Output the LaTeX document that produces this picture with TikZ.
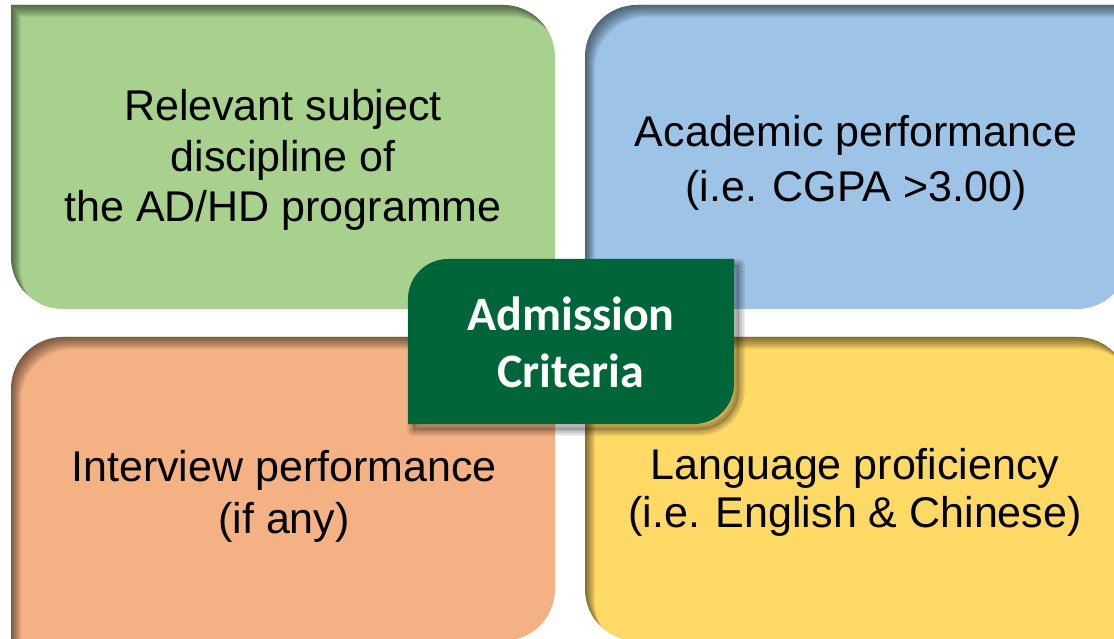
\documentclass[tikz,border=0pt]{standalone}
\usepackage{fontspec}
\setmainfont{Liberation Sans}
\newfontfamily\ctrfont{Carlito}
\definecolor{boxgreen}{HTML}{A9D18E}
\definecolor{boxblue}{HTML}{9DC3E6}
\definecolor{boxorange}{HTML}{F4B183}
\definecolor{boxyellow}{HTML}{FFD966}
\definecolor{ctrgreen}{HTML}{00663A}
\newcommand\shpGreen{(11,633) -- (503,633) arc(90:0:52) -- (555,381) arc(0:-90:52) -- (63,329) arc(270:180:52) -- cycle}
\newcommand\shpBlue{(1129,633) -- (1129,381) arc(0:-90:52) -- (637,329) arc(270:180:52) -- (585,581) arc(180:90:52) -- cycle}
\newcommand\shpOrange{(11,-3) -- (11,249) arc(180:90:52) -- (503,301) arc(90:0:52) -- (555,49) arc(0:-90:52) -- cycle}
\newcommand\shpYellow{(1129,-3) -- (1129,249) arc(0:90:52) -- (637,301) arc(90:180:52) -- (585,49) arc(180:270:52) -- cycle}
\newcommand\shpCenter{(408,214) -- (408,339) arc(180:90:40) -- (734,379) -- (734,254) arc(0:-90:40) -- cycle}
\newcommand\innershade[1]{%
  \begin{scope}
    \clip #1;
    \foreach \d in {1,...,11} {
      \fill[black, opacity=0.055, even odd rule, shift={(\d*0.9,-\d*1.1)}]
        (-400,-400) rectangle (1600,1100) #1;
    }
  \end{scope}}
\begin{document}
\begin{tikzpicture}[x=1pt,y=1pt,
  every node/.style={inner sep=0pt, outer sep=0pt},
  boxtext/.style={align=center, anchor=base, text=black}]
\path[use as bounding box, clip] (0,0) rectangle (1114,638);
\fill[white] (0,0) rectangle (1114,638);

% quadrant boxes
\fill[boxgreen] \shpGreen;
\innershade{\shpGreen}
\fill[boxblue] \shpBlue;
\innershade{\shpBlue}
\fill[boxorange] \shpOrange;
\innershade{\shpOrange}
\fill[boxyellow] \shpYellow;
\innershade{\shpYellow}

% texts (anchor base = baseline of the last line)
\node[boxtext, font=\fontsize{43}{50.5}\selectfont] (tg) at (283,416.3)
  {Relevant subject\\discipline of\\the AD/HD programme};
\node[boxtext, font=\fontsize{43}{55}\selectfont] (tb) at (856,436.3)
  {Academic performance\\(i.e. CGPA >3.00)};
\node[boxtext, font=\fontsize{43}{52}\selectfont] (to) at (284,105)
  {Interview performance\\(if any)};
\node[boxtext, font=\fontsize{43}{47.5}\selectfont] (ty) at (855,110.7)
  {Language proficiency\\(i.e. English \& Chinese)};

% center box shadow
\begin{scope}[shift={(5,-6)}]
  \foreach \w in {12,9,6,3} {
    \draw[black, opacity=0.07, line width=\w pt, line join=round] \shpCenter;
  }
  \fill[black, opacity=0.18] \shpCenter;
\end{scope}
\fill[ctrgreen] \shpCenter;
\node[boxtext, text=white, font=\ctrfont\bfseries\fontsize{48}{57}\selectfont] (tc) at (571,251)
  {Admission\\Criteria};
\end{tikzpicture}
\end{document}
